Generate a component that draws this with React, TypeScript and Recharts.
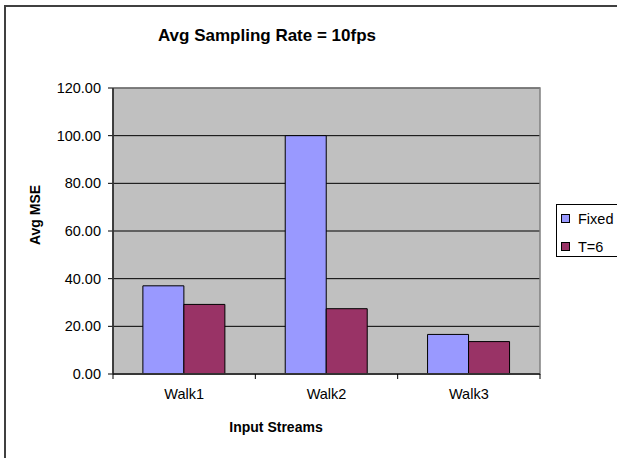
import React from "react";
import { BarChart, Bar, XAxis, YAxis, CartesianGrid } from "recharts";

const categories = ["Walk1", "Walk2", "Walk3"];
const fixedValues = [37.0, 100.0, 16.6];
const t6Values = [29.2, 27.4, 13.6];
const yTicks = [0, 20, 40, 60, 80, 100, 120];
const seriesNames = ["Fixed", "T=6"];
const seriesColors = ["#9999FF", "#993366"];

const data = categories.map((name, i) => ({
  name,
  fixed: fixedValues[i],
  t6: t6Values[i],
}));

const W = 617;
const H = 458;
const FONT = "'Liberation Sans', Arial, sans-serif";
const margin = { top: 88, right: 77, bottom: 0, left: 53 };
const yAxisWidth = 60;
const xAxisHeight = 84;
const plotLeft = margin.left + yAxisWidth;
const plotRight = W - margin.right;
const plotTop = margin.top;
const plotBottom = H - margin.bottom - xAxisHeight;

const LegendBox = () => (
  <div
    style={{
      position: "absolute",
      left: 556,
      top: 204,
      width: 62,
      height: 53,
      border: "1px solid #000",
      background: "#fff",
      boxSizing: "border-box",
      fontFamily: FONT,
      fontSize: 14.5,
      color: "#000",
    }}
  >
    {seriesNames.map((n, i) => (
      <div
        key={n}
        style={{
          position: "absolute",
          left: 4,
          top: 5 + i * 28,
          height: 17,
          display: "flex",
          alignItems: "center",
          whiteSpace: "nowrap",
        }}
      >
        <span
          style={{
            display: "inline-block",
            width: 7,
            height: 7,
            background: seriesColors[i],
            border: "1px solid #000",
            marginRight: 8,
          }}
        />
        <span>{n}</span>
      </div>
    ))}
  </div>
);

export default function App() {
  const catW = (plotRight - plotLeft) / categories.length;
  const boundaries = Array.from({ length: categories.length + 1 }, (_, i) => plotLeft + i * catW);
  return (
    <div style={{ position: "absolute", left: 0, top: 0, width: W, height: H, background: "#fff" }}>
      <BarChart
        width={W}
        height={H}
        data={data}
        margin={margin}
        barCategoryGap="21%"
        barGap={0}
      >
        <CartesianGrid vertical={false} stroke="#000" fill="#C0C0C0" fillOpacity={1} />
        <XAxis
          dataKey="name"
          height={xAxisHeight}
          tickLine={false}
          axisLine={{ stroke: "#000" }}
          tickSize={5}
          tickMargin={10}
          tick={{ fill: "#000", fontSize: 14.5, fontFamily: FONT }}
        />
        <YAxis
          width={yAxisWidth}
          domain={[0, 120]}
          ticks={yTicks}
          interval={0}
          tickFormatter={(v: number) => v.toFixed(2)}
          axisLine={{ stroke: "#000" }}
          tickLine={{ stroke: "#000" }}
          tickSize={5}
          tickMargin={7}
          tick={{ fill: "#000", fontSize: 14.5, fontFamily: FONT }}
        />
        <Bar dataKey="fixed" name={seriesNames[0]} fill={seriesColors[0]} stroke="#000" strokeWidth={1} isAnimationActive={false} />
        <Bar dataKey="t6" name={seriesNames[1]} fill={seriesColors[1]} stroke="#000" strokeWidth={1} isAnimationActive={false} />
      </BarChart>
      <svg
        width={W}
        height={H}
        style={{ position: "absolute", left: 0, top: 0, pointerEvents: "none" }}
      >
        <rect x={5} y={6} width={700} height={600} fill="none" stroke="#404040" strokeWidth={2} />
        <rect
          x={plotLeft}
          y={plotTop}
          width={plotRight - plotLeft}
          height={plotBottom - plotTop}
          fill="none"
          stroke="#808080"
          strokeWidth={1.5}
        />
        <line x1={plotLeft} y1={plotTop} x2={plotLeft} y2={plotBottom} stroke="#000" />
        <line x1={plotLeft} y1={plotBottom} x2={plotRight} y2={plotBottom} stroke="#000" />
        {boundaries.map((x, i) => (
          <line key={i} x1={x} y1={plotBottom} x2={x} y2={plotBottom + 5} stroke="#000" />
        ))}
        <text x={267} y={41} textAnchor="middle" fontFamily={FONT} fontSize={17} fontWeight="bold" fill="#000">
          Avg Sampling Rate = 10fps
        </text>
        <text x={276} y={432} textAnchor="middle" fontFamily={FONT} fontSize={14} fontWeight="bold" fill="#000">
          Input Streams
        </text>
        <text
          x={40}
          y={215}
          textAnchor="middle"
          fontFamily={FONT}
          fontSize={14}
          fontWeight="bold"
          fill="#000"
          transform="rotate(-90 40 215)"
        >
          Avg MSE
        </text>
      </svg>
      <LegendBox />
    </div>
  );
}
